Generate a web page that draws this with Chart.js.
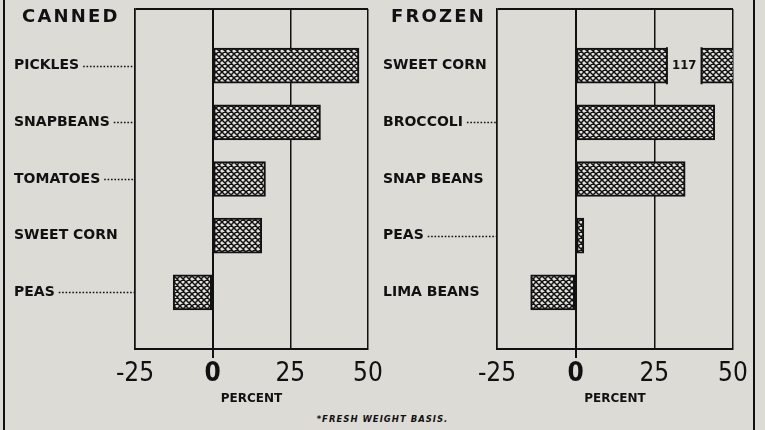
<!DOCTYPE html>
<html>
  <head>
    <title>Canned and Frozen</title>
    <script src="https://cdn.jsdelivr.net/npm/chart.js"></script>
    <style>
      body { margin: 0; background: #dcdbd5; }
      #page { position: relative; width: 765px; height: 430px; overflow: hidden; }
      .box { position: absolute; top: 0; height: 410px; }
      .head {
        position: absolute; top: 7px; font: bold 18px "DejaVu Sans", sans-serif;
        line-height: 18px; letter-spacing: 2.2px; color: #111;
      }
      .rule { position: absolute; top: 0; width: 2px; height: 430px; background: #111; }
      #note {
        position: absolute; top: 414px; left: 0; width: 765px; text-align: center;
        font: italic bold 8.5px "DejaVu Sans", sans-serif; letter-spacing: 1px; color: #111;
      }
    </style>
  </head>
  <body>
    <div id="page">
      <div class="rule" style="left: 3px"></div>
      <div class="rule" style="left: 753px"></div>
      <div class="box" style="left: 0; width: 385px"><canvas id="canned"></canvas></div>
      <div class="box" style="left: 380px; width: 385px"><canvas id="frozen"></canvas></div>
      <div class="head" style="left: 22px">CANNED</div>
      <div class="head" style="left: 391px">FROZEN</div>
      <div id="note">*FRESH WEIGHT BASIS.</div>
    </div>

    <script>
      // percent change, fresh weight basis
      const cannedFoods = ["PICKLES", "SNAPBEANS", "TOMATOES", "SWEET CORN", "PEAS"];
      const cannedChange = [47.1, 34.7, 17.0, 15.8, -12.7];
      const frozenFoods = ["SWEET CORN", "BROCCOLI", "SNAP BEANS", "PEAS", "LIMA BEANS"];
      const frozenChange = [117, 44.2, 34.8, 2.6, -14.3];
      const percentTicks = [-25, 0, 25, 50];

      const ink = "#111";
      const paper = "#dcdbd5";
      const labelFont = "'DejaVu Sans', sans-serif";
      const numFont = "'Liberation Sans Narrow', 'DejaVu Sans Condensed', sans-serif";

      // cross hatch fill
      function hatch() {
        const c = document.createElement("canvas");
        c.width = 6;
        c.height = 6;
        const g = c.getContext("2d");
        g.fillStyle = "#e2e1dc";
        g.fillRect(0, 0, 6, 6);
        g.strokeStyle = ink;
        g.lineWidth = 1.5;
        g.beginPath();
        for (const o of [-6, 0, 6]) {
          g.moveTo(o, 0); g.lineTo(o + 6, 6);
          g.moveTo(o + 6, 0); g.lineTo(o, 6);
        }
        g.stroke();
        return g.createPattern(c, "repeat");
      }
      const fill = hatch();

      // dotted leaders from the names to the axis
      const leaders = {
        id: "leaders",
        afterDraw(chart) {
          const y = chart.scales.y;
          const ctx = chart.ctx;
          ctx.save();
          ctx.font = "bold 14px " + labelFont;
          ctx.strokeStyle = ink;
          ctx.lineWidth = 1.6;
          ctx.setLineDash([1.6, 1.8]);
          chart.data.labels.forEach((lab, i) => {
            if (!lab) return;
            const end = y.left + ctx.measureText(lab).width;
            if (chart.chartArea.left - end < 20) return;
            const py = Math.round(y.getPixelForTick(i)) + 0.5;
            ctx.beginPath();
            ctx.moveTo(end + 4, py);
            ctx.lineTo(chart.chartArea.left - 1, py);
            ctx.stroke();
          });
          ctx.restore();
        },
      };

      // break for bars that run off the scale
      const breaks = {
        id: "breaks",
        afterDatasetsDraw(chart) {
          const x = chart.scales.x;
          const ctx = chart.ctx;
          const meta = chart.getDatasetMeta(0);
          chart.data.datasets[0].data.forEach((v, i) => {
            if (v == null || v <= x.max) return;
            const bar = meta.data[i];
            const a = x.getPixelForValue(29);
            const b = x.getPixelForValue(40);
            const top = bar.y - bar.height / 2 - 2;
            const h = bar.height + 4;
            ctx.save();
            ctx.fillStyle = paper;
            ctx.fillRect(a, top, b - a, h);
            ctx.strokeStyle = ink;
            ctx.lineWidth = 2;
            ctx.beginPath();
            ctx.moveTo(a, top + 1); ctx.lineTo(a, top + h - 1);
            ctx.moveTo(b, top + 1); ctx.lineTo(b, top + h - 1);
            ctx.stroke();
            ctx.fillStyle = ink;
            ctx.font = "bold 13px 'DejaVu Sans Condensed', " + labelFont;
            ctx.textAlign = "center";
            ctx.textBaseline = "middle";
            ctx.fillText(String(v), (a + b) / 2, bar.y);
            ctx.restore();
          });
        },
      };

      function makeChart(id, foods, change, padLeft, axisWidth, padRight) {
        return new Chart(document.getElementById(id), {
          type: "bar",
          data: {
            labels: ["", ...foods, ""],
            datasets: [
              {
                data: [null, ...change, null],
                backgroundColor: fill,
                borderColor: ink,
                borderWidth: 2,
                borderSkipped: false,
                barThickness: 35,
              },
            ],
          },
          options: {
            indexAxis: "y",
            responsive: true,
            maintainAspectRatio: false,
            animation: false,
            layout: { padding: { left: padLeft, right: padRight, top: 9, bottom: 0 } },
            plugins: { legend: { display: false }, tooltip: { enabled: false } },
            scales: {
              x: {
                min: percentTicks[0],
                max: percentTicks[percentTicks.length - 1],
                afterFit: (s) => { s.height = 61; },
                afterBuildTicks: (s) => { s.ticks = percentTicks.map((v) => ({ value: v })); },
                ticks: {
                  color: ink,
                  padding: 1,
                  font: (c) => ({
                    family: numFont,
                    size: 26,
                    weight: c.tick && c.tick.value === 0 ? "bold" : "normal",
                  }),
                },
                grid: {
                  color: ink,
                  lineWidth: (c) => (c.tick && c.tick.value === 0 ? 2 : 1.5),
                  tickLength: 9,
                  tickColor: (c) => (c.tick && c.tick.value === 0 ? ink : "transparent"),
                },
                border: { color: ink, width: 2 },
                title: {
                  display: true,
                  text: "PERCENT",
                  color: ink,
                  font: { family: labelFont, size: 12, weight: "bold" },
                  padding: { top: 2, bottom: 4 },
                },
              },
              y: {
                offset: false,
                afterFit: (s) => { s.width = axisWidth; },
                ticks: {
                  color: ink,
                  crossAlign: "far",
                  autoSkip: false,
                  font: { family: labelFont, size: 14, weight: "bold", lineHeight: 0.8 },
                },
                grid: {
                  offset: false,
                  drawTicks: false,
                  color: (c) => (c.index === 0 ? ink : "transparent"),
                  lineWidth: 2,
                },
                border: { color: ink, width: 1.5 },
              },
            },
          },
          plugins: [leaders, breaks],
        });
      }

      makeChart("canned", cannedFoods, cannedChange, 14, 121, 17);
      makeChart("frozen", frozenFoods, frozenChange, 3, 114, 32);
    </script>
  </body>
</html>
